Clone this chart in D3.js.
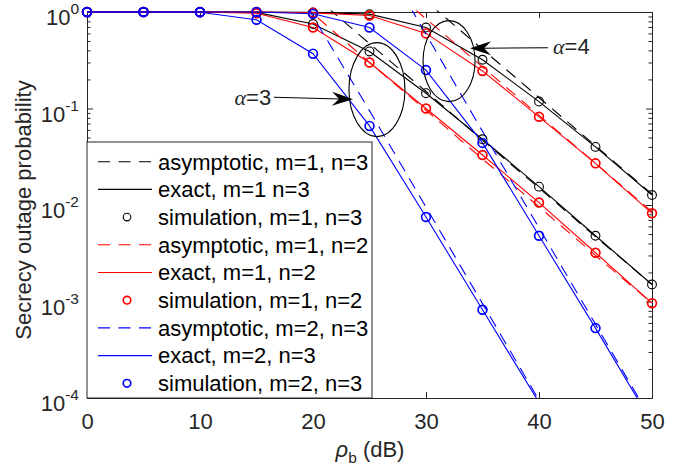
<!DOCTYPE html>
<html>
<head>
<meta charset="utf-8">
<script src="https://cdnjs.cloudflare.com/ajax/libs/d3/7.8.5/d3.min.js"></script>
<style>
body { margin:0; background:#fff; }
text { font-family: "Liberation Sans", Arial, Helvetica, sans-serif; }
.axis path, .axis line { stroke:#262626; stroke-width:1; }
</style>
</head>
<body>
<script>
// SNR grid (dB)
var snr = [0,5,10,15,20,25,30,35,40,45,50];

// exact curves, simulation circles sit on the same values
var m1n3a4 = [1,1,1,1,0.99,0.95,0.69,0.32,0.118,0.040,0.0127];
var m1n3a3 = [1,1,1,0.99,0.75,0.39,0.144,0.048,0.0155,0.0048,0.0015];
var m1n2a4 = [1,1,1,1,0.98,0.92,0.60,0.245,0.082,0.027,0.0082];
var m1n2a3 = [1,1,1,0.97,0.69,0.30,0.100,0.033,0.0106,0.0032,0.00096];
var m2n3a4 = [1,1,1,1,0.96,0.69,0.25,0.044,0.0048,0.00053,0.000055];
var m2n3a3 = [1,1,0.995,0.83,0.37,0.066,0.0075,0.00082,0.00009,null,null];

// asymptotic curves (values above 1 get clipped by the axes)
var asyM1n3a4 = [null,null,null,null,null,4.1,1.3,0.41,0.13,0.041,0.013];
var asyM1n3a3 = [null,null,null,null,1.5,0.47,0.15,0.047,0.015,0.0047,0.0015];
var asyM1n2a4 = [null,null,null,null,null,2.7,0.85,0.27,0.085,0.027,0.0085];
var asyM1n2a3 = [null,null,null,3.0,0.96,0.30,0.096,0.030,0.0096,0.003,0.00096];
var asyM2n3a4 = [null,null,null,null,null,5.9,0.59,0.058,0.0058,0.00058,0.000058];
var asyM2n3a3 = [null,null,null,9,0.9,0.095,0.0095,0.00095,0.000095,null,null];

var xTicks = [0,10,20,30,40,50];
var yTicks = [1e-4,1e-3,1e-2,1e-1,1];

var legendLabels = ["asymptotic, m=1, n=3","exact, m=1 n=3","simulation, m=1, n=3",
  "asymptotic, m=1, n=2","exact, m=1, n=2","simulation, m=1, n=2",
  "asymptotic, m=2, n=3","exact, m=2, n=3","simulation, m=2, n=3"];
var legendKinds = ["asy","exact","sim","asy","exact","sim","asy","exact","sim"];
var legendColors = ["#000","#000","#000","red","red","red","blue","blue","blue"];

var series = [
  {v: asyM1n3a4, c:"#000", kind:"asy"}, {v: m1n3a4, c:"#000", kind:"exact"},
  {v: asyM1n3a3, c:"#000", kind:"asy"}, {v: m1n3a3, c:"#000", kind:"exact"},
  {v: asyM1n2a4, c:"red", kind:"asy"}, {v: m1n2a4, c:"red", kind:"exact"},
  {v: asyM1n2a3, c:"red", kind:"asy"}, {v: m1n2a3, c:"red", kind:"exact"},
  {v: asyM2n3a4, c:"blue", kind:"asy"}, {v: m2n3a4, c:"blue", kind:"exact"},
  {v: asyM2n3a3, c:"blue", kind:"asy"}, {v: m2n3a3, c:"blue", kind:"exact"}
];

var margin = {left:87, top:12};
var width = 565, height = 386;
var fs = 22;

var x = d3.scaleLinear().domain([0,50]).range([0,width]);
var y = d3.scaleLog().domain([1e-4,1]).range([height,0]);

var minorTicks = [];
yTicks.slice(0,4).forEach(function(t){
  for (var k=2;k<10;k++) minorTicks.push(t*k);
});

var svg = d3.select("body").append("svg").attr("width",689).attr("height",472);
var g = svg.append("g").attr("transform","translate("+margin.left+","+margin.top+")");

svg.append("defs").append("clipPath").attr("id","clip")
  .append("rect").attr("x",-1).attr("y",-1.5).attr("width",width+2).attr("height",height+1.5);

// axes box with inward ticks
g.append("g").attr("class","axis").attr("transform","translate(0,"+height+")")
  .call(d3.axisBottom(x).tickValues(xTicks).tickSizeInner(-6).tickSizeOuter(0).tickPadding(15))
  .selectAll("text").attr("font-size",fs).attr("fill","#262626");
g.append("g").attr("class","axis")
  .call(d3.axisTop(x).tickValues(xTicks).tickSizeInner(-6).tickSizeOuter(0).tickFormat(""));
g.append("g").attr("class","axis")
  .call(d3.axisLeft(y).tickValues(yTicks).tickSizeInner(-6).tickSizeOuter(0).tickFormat(""));
g.append("g").attr("class","axis")
  .call(d3.axisLeft(y).tickValues(minorTicks).tickSizeInner(-3.5).tickSizeOuter(0).tickFormat(""));
g.append("g").attr("class","axis").attr("transform","translate("+width+",0)")
  .call(d3.axisRight(y).tickValues(yTicks).tickSizeInner(-6).tickSizeOuter(0).tickFormat(""));
g.append("g").attr("class","axis").attr("transform","translate("+width+",0)")
  .call(d3.axisRight(y).tickValues(minorTicks).tickSizeInner(-3.5).tickSizeOuter(0).tickFormat(""));
g.selectAll(".axis").attr("font-family",null);

// y tick labels 10^k
var yl = g.selectAll("text.ylab").data(yTicks).enter().append("text")
  .attr("class","ylab").attr("text-anchor","end").attr("x",-8)
  .attr("y",function(d){ return y(d)+13; }).attr("fill","#262626").attr("font-size",fs);
yl.append("tspan").text("10");
yl.append("tspan").attr("font-size",15.5).attr("dy",-11)
  .text(function(d){ return String(Math.round(Math.log10(d))); });

// curves
var line = d3.line()
  .defined(function(d){ return d[1]!=null; })
  .x(function(d){ return x(d[0]); })
  .y(function(d){ return y(d[1]); });

var plot = g.append("g").attr("clip-path","url(#clip)");
series.forEach(function(s){
  var pts = snr.map(function(t,i){ return [t, s.v[i]]; });
  plot.append("path").attr("d",line(pts)).attr("fill","none")
    .attr("stroke",s.c).attr("stroke-width",1.1)
    .attr("stroke-dasharray", s.kind=="asy" ? "12,8" : null);
});

// simulation markers
series.filter(function(s){ return s.kind=="exact"; }).forEach(function(s){
  var pts = snr.map(function(t,i){ return [t, s.v[i]]; })
    .filter(function(d){ return d[1]!=null && d[1]>=1e-4; });
  g.selectAll(null).data(pts).enter().append("circle")
    .attr("cx",function(d){ return x(d[0]); })
    .attr("cy",function(d){ return y(d[1]); })
    .attr("r",4.4).attr("fill","none").attr("stroke",s.c)
    .attr("stroke-width", s.c=="#000" ? 1.1 : 1.7);
});

// ellipses and arrows
var ellipses = [{x:25.66, y:0.157, rx:28, ry:47}, {x:32.04, y:0.31, rx:26, ry:40.5}];
g.selectAll("ellipse").data(ellipses).enter().append("ellipse")
  .attr("cx",function(d){ return x(d.x); }).attr("cy",function(d){ return y(d.y); })
  .attr("rx",function(d){ return d.rx; }).attr("ry",function(d){ return d.ry; })
  .attr("fill","none").attr("stroke","#000").attr("stroke-width",1.1);

var arrows = [
  {x0:16.55, y0:0.1306, x1:23.54, y1:0.1245, label:"3", anchor:"end", tx:16.3, ty:0.108},
  {x0:40.8, y0:0.426, x1:33.9, y1:0.42, label:"4", anchor:"start", tx:41.24, ty:0.37}
];
arrows.forEach(function(a){
  var ax0=x(a.x0), ay0=y(a.y0), ax1=x(a.x1), ay1=y(a.y1);
  var dx=ax1-ax0, dy=ay1-ay0, len=Math.sqrt(dx*dx+dy*dy);
  var ux=dx/len, uy=dy/len, nx=-uy, ny=ux;
  var L=21, W=7, N=7;
  g.append("line").attr("x1",ax0).attr("y1",ay0)
    .attr("x2",ax1-ux*L*0.6).attr("y2",ay1-uy*L*0.6)
    .attr("stroke","#000").attr("stroke-width",1.1);
  var head = [[ax1,ay1],[ax1-ux*L+nx*W, ay1-uy*L+ny*W],[ax1-ux*(L-N), ay1-uy*(L-N)],[ax1-ux*L-nx*W, ay1-uy*L-ny*W]];
  g.append("path").attr("d","M"+head.join("L")+"Z").attr("fill","#000");
  var t = g.append("text").attr("x",x(a.tx)).attr("y",y(a.ty))
    .attr("text-anchor",a.anchor).attr("font-size",fs).attr("fill","#262626");
  t.append("tspan").attr("font-family","'Liberation Serif', 'Times New Roman', serif")
    .attr("font-style","italic").text("\u03b1");
  t.append("tspan").text("="+a.label);
});

// legend
var lg = svg.append("g");
lg.append("rect").attr("x",87).attr("y",142).attr("width",285).attr("height",256)
  .attr("fill","#fff").attr("stroke","#262626").attr("stroke-width",1);
legendLabels.forEach(function(lab,i){
  var cy = 161.7 + i*27.7;
  if (legendKinds[i]=="sim") {
    lg.append("circle").attr("cx",127).attr("cy",cy).attr("r",3.8).attr("fill","none")
      .attr("stroke",legendColors[i]).attr("stroke-width", legendColors[i]=="#000" ? 1.1 : 1.7);
  } else {
    lg.append("line").attr("x1",98).attr("x2",152).attr("y1",cy).attr("y2",cy)
      .attr("stroke",legendColors[i]).attr("stroke-width",1.1)
      .attr("stroke-dasharray", legendKinds[i]=="asy" ? "12,8.5" : null);
  }
  lg.append("text").attr("x",158).attr("y",cy+7.8).attr("font-size",fs).attr("fill","#000").text(lab);
});

// axis titles
var xt = svg.append("text").attr("x",370).attr("y",457).attr("text-anchor","middle")
  .attr("font-size",fs).attr("fill","#262626");
xt.append("tspan").attr("font-style","italic").text("\u03c1");
xt.append("tspan").attr("font-size",15.5).attr("dy",6).text("b");
xt.append("tspan").attr("dy",-6).text(" (dB)");

svg.append("text").attr("transform","translate(31,210) rotate(-90)")
  .attr("text-anchor","middle").attr("font-size",fs).attr("fill","#262626")
  .text("Secrecy outage probability");
</script>
</body>
</html>
